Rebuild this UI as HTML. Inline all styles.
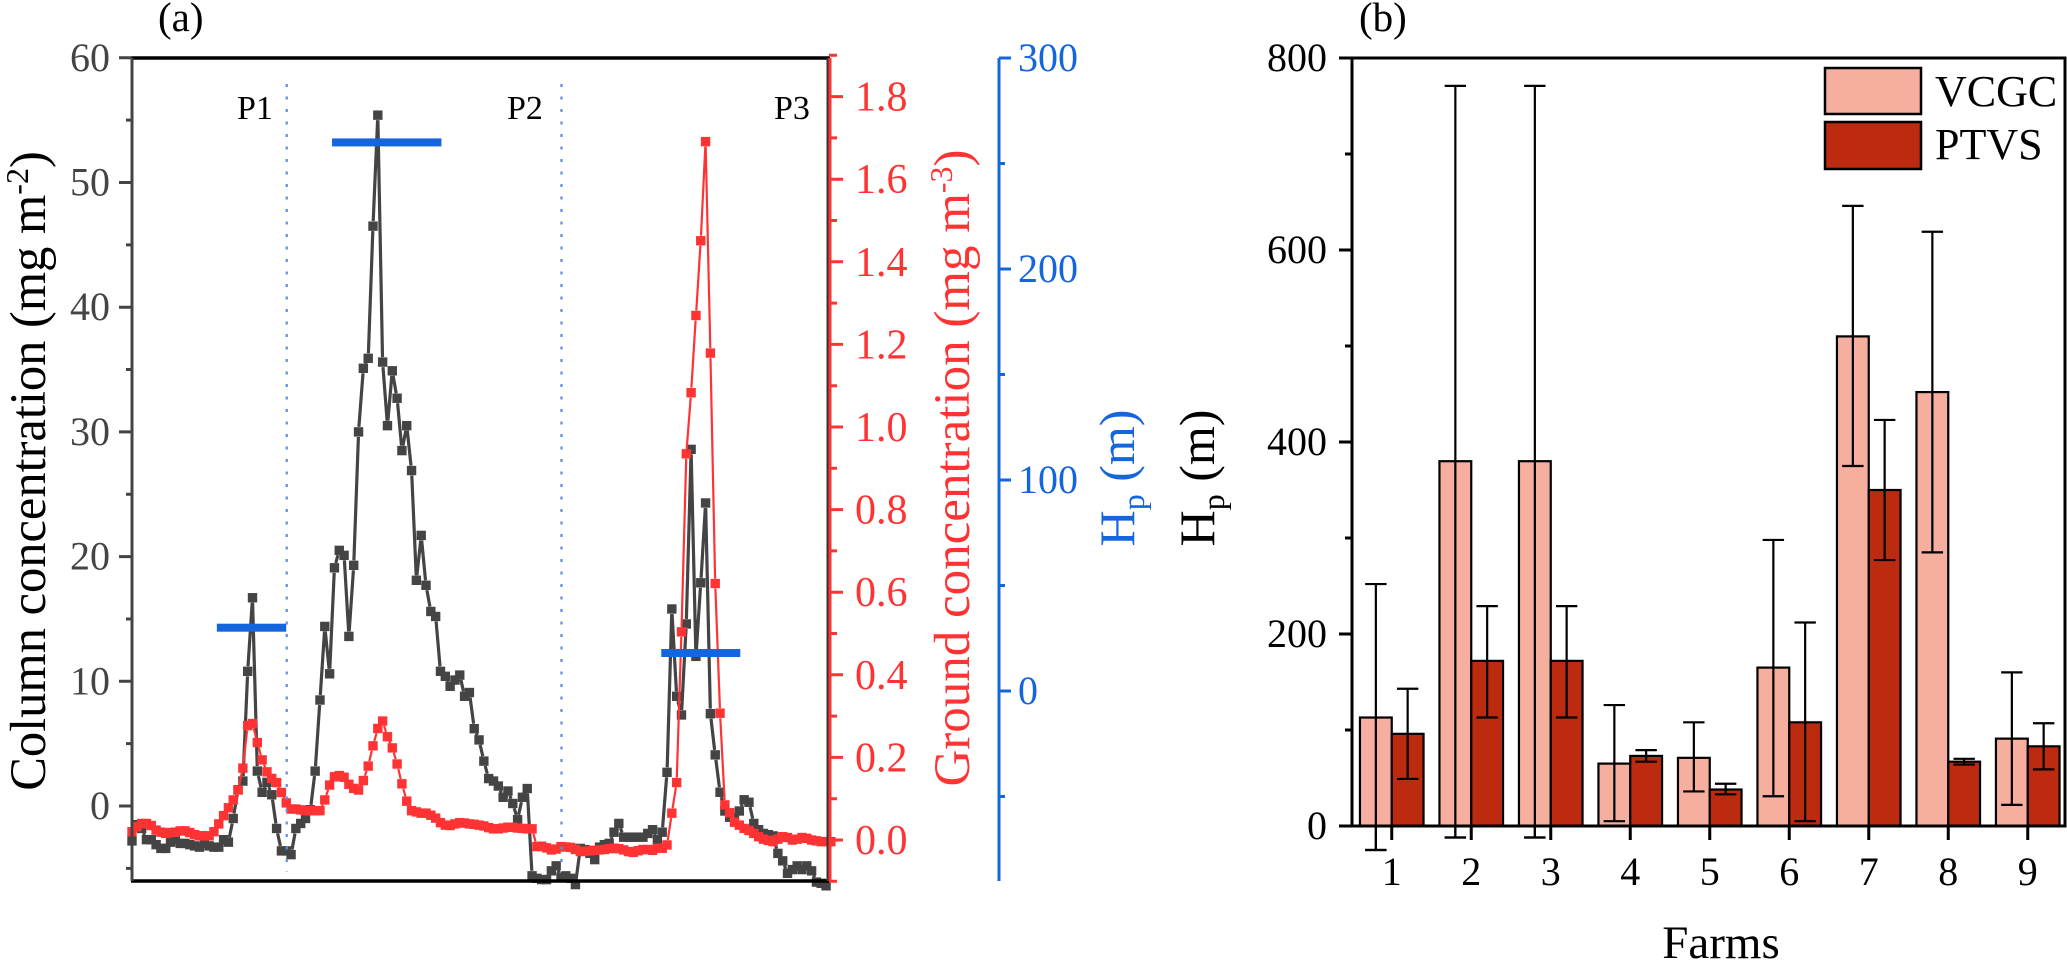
<!DOCTYPE html>
<html lang="en">
<head>
<meta charset="utf-8">
<title>Column and ground concentration and Hp by farm</title>
<style>
html,body{margin:0;padding:0;background:#fff;width:2067px;height:964px;overflow:hidden}
svg{display:block}
text{font-family:"Liberation Serif","Times New Roman",serif}
</style>
</head>
<body>
<svg id="chart" xmlns="http://www.w3.org/2000/svg" width="2067" height="964" viewBox="0 0 2067 964"></svg>
<script>
// ---------- panel (a) data ----------
const columnConcentration = [
-2.8,-1.5,-1.8,-2.7,-2.7,-3.1,-3.4,-3.4,-2.9,-2.7,
-3.0,-3.0,-3.1,-3.2,-3.3,-3.0,-3.2,-3.3,-3.3,-2.7,
-2.9,-1.0,1.3,2.0,10.8,16.7,2.8,1.1,1.9,0.9,
-1.8,-3.6,-3.6,-3.9,-1.8,-1.4,-1.0,-0.3,2.8,8.5,
14.4,10.6,19.1,20.5,20.1,13.6,19.3,30,35.1,35.9,
46.5,55.4,35.6,30.5,34.9,32.7,28.5,30.5,26.9,18.1,
21.7,17.7,15.6,15.2,10.8,10.4,9.6,10.1,10.5,8.8,
9.1,6.2,5.3,3.6,2.2,2.0,1.6,0.7,1.2,0.2,
-1.1,0.7,1.4,-5.6,-5.8,-5.9,-5.9,-5.2,-4.8,-5.7,
-5.6,-5.8,-6.3,-3.4,-3.5,-3.8,-4.3,-3.3,-3.1,-3.0,
-2.1,-1.4,-2.5,-2.5,-2.5,-2.5,-2.5,-2.2,-1.9,-2.7,
-2.1,2.7,15.8,8.8,7.3,14.6,28.6,12,17.9,24.3,
7.4,4.1,1.1,-0.4,-0.9,-0.9,-0.4,0.5,0.3,-1.4,
-1.9,-2.2,-2.3,-2.4,-3.8,-4.4,-5.4,-5.1,-4.8,-5.1,
-4.8,-5.2,-6.1,-6.2,-6.4];
const groundConcentration = [
.020,.032,.040,.040,.035,.024,.019,.016,.018,.019,
.022,.022,.018,.013,.010,.010,.010,.020,.039,.059,
.078,.097,.121,.174,.277,.282,.236,.194,.165,.149,
.139,.115,.090,.075,.075,.073,.071,.071,.071,.071,
.097,.133,.153,.156,.152,.135,.125,.121,.144,.179,
.228,.270,.288,.250,.223,.184,.136,.094,.071,.068,
.065,.065,.060,.053,.042,.036,.035,.039,.042,.041,
.039,.038,.036,.034,.030,.027,.027,.029,.031,.031,
.029,.028,.027,.027,-.016,-.015,-.019,-.024,-.022,-.016,
-.017,-.018,-.023,-.028,-.027,-.026,-.025,-.024,-.023,-.021,
-.020,-.021,-.024,-.028,-.030,-.026,-.023,-.023,-.025,-.020,
-.020,-.012,.065,.139,.504,.935,1.083,1.270,1.451,1.691,
1.179,.621,.307,.085,.066,.043,.036,.028,.023,.016,
.008,.002,-.001,-.004,.002,.008,.006,0,.002,.006,
.004,0,-.002,-.004,-.004,-.004];
const periodLabels = ["P1","P2","P3"];
const periodHpValues = [30,260,18];
const periodHpStart = [17.6,41.5,109.8];
const periodHpEnd = [32,64.2,126.2];
const periodBoundaries = [32,89];
const columnTicks = [60,50,40,30,20,10,0];
const groundTicks = ["1.8","1.6","1.4","1.2","1.0","0.8","0.6","0.4","0.2","0.0"];
const hpTicks = [300,200,100,0];

// ---------- panel (b) data ----------
const farms = [1,2,3,4,5,6,7,8,9];
const vcgcValues = [113,380,380,65,71,165,510,452,91];
const vcgcHigh = [252,771,771,126,108,298,646,619,160];
const vcgcLow = [-25,-12,-12,5,36,31,375,285,22];
const ptvsValues = [96,172,172,73,38,108,350,67,83];
const ptvsHigh = [143,229,229,79,44,212,423,70,107];
const ptvsLow = [49,113,113,67,33,5,277,64,59];
const barAxisTicks = [800,600,400,200,0];

// ---------- scales ----------
const plotA = {left:132,right:829,top:58,bottom:881};
const xA = i => plotA.left + i*4.82;
const yColumn = v => 806 - v*12.47;
const yGround = v => 840 - v*413;
const yHp = v => 691 - v*2.11;
const plotB = {left:1352,right:2065,top:58,bottom:826};
const xB = c => plotB.left + (c-0.5)*79.5;
const yB = v => plotB.bottom - v*0.96;
const barW = 31.8;

const svg = document.getElementById('chart');
const NS = 'http://www.w3.org/2000/svg';
function make(tag, attrs, txt){
  const e = document.createElementNS(NS, tag);
  for(const k in attrs) e.setAttribute(k, attrs[k]);
  if(txt!==undefined) e.textContent = txt;
  svg.appendChild(e);
  return e;
}
function tsp(parent, txt, size, dy){
  const t = document.createElementNS(NS,'tspan');
  if(size) t.setAttribute('font-size', size);
  if(dy) t.setAttribute('dy', dy);
  t.textContent = txt;
  parent.appendChild(t);
}
let el;

// ---------- series (a): gapped line + markers ----------
function gappedPath(xs, ys, gap){
  let d = '';
  for(let i=0;i<xs.length-1;i++){
    const dx=xs[i+1]-xs[i], dy=ys[i+1]-ys[i], L=Math.hypot(dx,dy);
    if(L<=gap*2) continue;
    const ux=dx/L, uy=dy/L;
    d += 'M'+(xs[i]+ux*gap).toFixed(1)+' '+(ys[i]+uy*gap).toFixed(1)+'L'+(xs[i+1]-ux*gap).toFixed(1)+' '+(ys[i+1]-uy*gap).toFixed(1);
  }
  return d;
}

// column series
const cx = columnConcentration.map((v,i)=>xA(i));
const cy = columnConcentration.map(yColumn);
el = make('path',{d:gappedPath(cx,cy,5),fill:'none',stroke:'#444',"stroke-width":3.2});


columnConcentration.forEach((v,i)=>{
  const m = make('rect',{x:xA(i)-4.7,y:yColumn(v)-4.7,width:9.4,height:9.4,fill:'#444'});
  
  
});

// ground series
const gx = groundConcentration.map((v,i)=>xA(i));
const gy = groundConcentration.map(yGround);
el = make('path',{d:gappedPath(gx,gy,5),fill:'none',stroke:'#f33',"stroke-width":2.2});


groundConcentration.forEach((v,i)=>{
  const m = make('rect',{x:xA(i)-4.7,y:yGround(v)-4.7,width:9.4,height:9.4,fill:'#f33'});
  
  
});

// Hp period bars
periodHpValues.forEach((v,i)=>{
  const b = make('rect',{x:xA(periodHpStart[i]),y:yHp(v)-4,width:xA(periodHpEnd[i])-xA(periodHpStart[i]),height:8,fill:'#1565dc'});
  
  
});

// period dividers
periodBoundaries.forEach((p,i)=>{
  const l = make('line',{x1:xA(p)+0.5,x2:xA(p)+0.5,y1:84,y2:872,stroke:'#5b8fe0',"stroke-width":2.2,"stroke-dasharray":'3 9.5'});
  
  
});
const periodLabelX = [237,507,774];
periodLabels.forEach((t,i)=>{
  const l = make('text',{x:periodLabelX[i],y:119,"font-size":34,fill:'#000'},t);
  
  
});

// ---------- axes (a) ----------
el = make('line',{x1:plotA.left-1,x2:plotA.right+1,y1:plotA.top,y2:plotA.top,stroke:'#000',"stroke-width":3.5});


el = make('line',{x1:plotA.left-1,x2:plotA.right+1,y1:plotA.bottom,y2:plotA.bottom,stroke:'#000',"stroke-width":3.5});



// left axis
let d = 'M'+plotA.left+' '+plotA.top+'V'+plotA.bottom;
columnTicks.forEach(v=>{ d+='M'+plotA.left+' '+yColumn(v)+'H119'; });
columnTicks.forEach(v=>{ if(yColumn(v-5)<plotA.bottom) d+='M'+plotA.left+' '+yColumn(v-5)+'H126'; });
el = make('path',{d:d,fill:'none',stroke:'#444',"stroke-width":3});


columnTicks.forEach(v=>{
  const t = make('text',{x:110,y:yColumn(v)+13,"text-anchor":'end',"font-size":40,fill:'#444'},v);
  
  
});

// red axis
el = make('line',{x1:plotA.right-1.5,x2:plotA.right-1.5,y1:plotA.top,y2:plotA.bottom,stroke:'#333',"stroke-width":2});


d = 'M'+(plotA.right+1)+' '+plotA.top+'V'+plotA.bottom;
groundTicks.forEach(v=>{ d+='M'+plotA.right+' '+yGround(+v)+'H843'; });
groundTicks.forEach(v=>{ d+='M'+plotA.right+' '+yGround(+v-0.1)+'H837'; });
d+='M'+plotA.right+' '+yGround(1.9)+'H837';
el = make('path',{d:d,fill:'none',stroke:'#f33',"stroke-width":3});


groundTicks.forEach(v=>{
  const t = make('text',{x:855,y:yGround(+v)+14,"font-size":42,fill:'#f33'},v);
  
  
});

// blue axis
d = 'M999 '+plotA.top+'V'+plotA.bottom;
hpTicks.forEach(v=>{ d+='M999 '+yHp(v)+'H1011'; });
hpTicks.forEach(v=>{ d+='M999 '+yHp(v-50)+'H1005'; });
el = make('path',{d:d,fill:'none',stroke:'#1565dc',"stroke-width":3});


hpTicks.forEach(v=>{
  const t = make('text',{x:1018,y:yHp(v)+13,"font-size":40,fill:'#1565dc'},v);
  
  
});

// axis titles (a)
el = make('text',{transform:'translate(45,471) rotate(-90)',"text-anchor":'middle',"font-size":50.5,fill:'#000'});
tsp(el,'Column concentration (mg m');
tsp(el,'-2',32,-17);
tsp(el,')',null,17);


el = make('text',{transform:'translate(969,468) rotate(-90)',"text-anchor":'middle',"font-size":51,fill:'#f33'});
tsp(el,'Ground concentration (mg m');
tsp(el,'-3',32,-17);
tsp(el,')',null,17);


el = make('text',{transform:'translate(1134,478) rotate(-90)',"text-anchor":'middle',"font-size":50,fill:'#1565dc'});
tsp(el,'H');
tsp(el,'p',32,10);
tsp(el,' (m)',null,-10);


el = make('text',{transform:'translate(1214,478) rotate(-90)',"text-anchor":'middle',"font-size":50,fill:'#000'});
tsp(el,'H');
tsp(el,'p',32,10);
tsp(el,' (m)',null,-10);


el = make('text',{x:158,y:31,"font-size":41,fill:'#000'},'(a)');



// ---------- panel (b) bars ----------
function drawBar(x, v, hi, lo, fill, name){
  const w = make('path',{d:'M'+(x+barW/2)+' '+yB(hi)+'V'+yB(lo)+'M'+(x+barW/2-10.7)+' '+yB(hi)+'h21.4M'+(x+barW/2-10.7)+' '+yB(lo)+'h21.4',fill:'none',stroke:'#000',"stroke-width":2.2});
  
  
  const r = make('rect',{x:x,y:yB(v),width:barW,height:yB(0)-yB(v),fill:fill,stroke:'#000',"stroke-width":2.2});
  
  
  const w2 = make('path',{d:'M'+(x+barW/2)+' '+yB(Math.max(v,lo))+'V'+yB(lo)+'M'+(x+barW/2-10.7)+' '+yB(lo)+'h21.4',fill:'none',stroke:'#000',"stroke-width":2.2});
  
  
}
farms.forEach((f,i)=>{
  drawBar(xB(f)-barW, vcgcValues[i], vcgcHigh[i], vcgcLow[i], '#f6ae9e', 'vcgc-farm-'+f);
  drawBar(xB(f), ptvsValues[i], ptvsHigh[i], ptvsLow[i], '#bc2a10', 'ptvs-farm-'+f);
});

// ---------- axes (b) ----------
el = make('rect',{x:plotB.left,y:plotB.top,width:plotB.right-plotB.left,height:plotB.bottom-plotB.top,fill:'none',stroke:'#000',"stroke-width":3});


d='';
barAxisTicks.forEach(v=>{ d+='M'+plotB.left+' '+yB(v)+'H1339'; });
barAxisTicks.forEach(v=>{ if(v>0) d+='M'+plotB.left+' '+yB(v-100)+'H1345'; });
farms.forEach(f=>{ d+='M'+xB(f)+' '+plotB.bottom+'V'+(plotB.bottom+14); });
el = make('path',{d:d,fill:'none',stroke:'#000',"stroke-width":3});


barAxisTicks.forEach(v=>{
  const t = make('text',{x:1327,y:yB(v)+13,"text-anchor":'end',"font-size":40,fill:'#000'},v);
  
  
});
farms.forEach(f=>{
  const t = make('text',{x:xB(f),y:885,"text-anchor":'middle',"font-size":40,fill:'#000'},f);
  
  
});
el = make('text',{x:1721,y:958,"text-anchor":'middle',"font-size":47,fill:'#000'},'Farms');


el = make('text',{x:1359,y:31,"font-size":41,fill:'#000'},'(b)');



// legend
el = make('rect',{x:1825,y:68,width:96,height:46,fill:'#f6ae9e',stroke:'#000',"stroke-width":2.5});


el = make('rect',{x:1825,y:122,width:96,height:47,fill:'#bc2a10',stroke:'#000',"stroke-width":2.5});


el = make('text',{x:1935,y:106,"font-size":44,fill:'#000'},'VCGC');


el = make('text',{x:1935,y:159,"font-size":44,fill:'#000'},'PTVS');


</script>
</body>
</html>
